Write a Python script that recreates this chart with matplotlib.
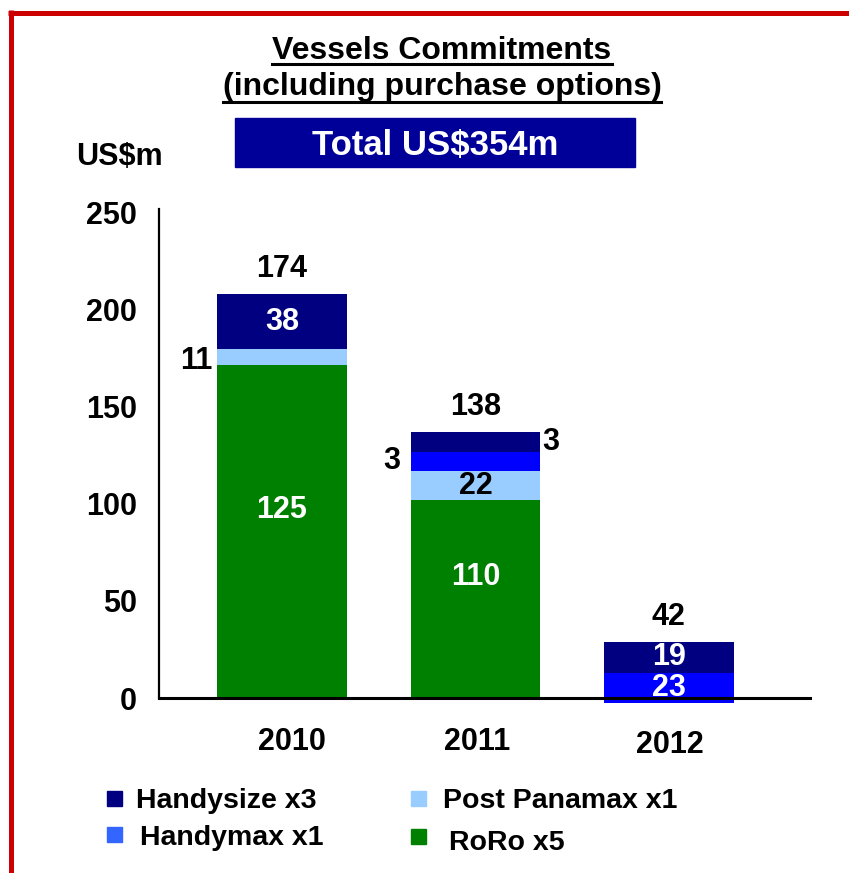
import matplotlib.pyplot as plt
import matplotlib.transforms as mtransforms
from matplotlib.patches import Rectangle
from matplotlib.lines import Line2D

plt.rcParams['font.family'] = ['Liberation Sans', 'DejaVu Sans']
plt.rcParams['font.weight'] = 'bold'

years = ['2010', '2011', '2012']
# segment heights as drawn on the value axis (US$m)
base = [0, 0, -2.6]
roro = [171.5, 102, 0]
post_panamax = [8.5, 15, 0]
handymax = [0, 10, 15.5]
handysize = [28, 10, 16]
# printed labels
roro_lbl = ['125', '110', '']
post_panamax_lbl = ['11', '22', '']
handymax_lbl = ['', '3', '23']
handysize_lbl = ['38', '3', '19']
total_lbl = ['174', '138', '42']

legend_names = ['Handysize x3', 'Handymax x1', 'Post Panamax x1', 'RoRo x5']
c_navy, c_blue, c_light, c_green = '#000080', '#0000FF', '#99CCFF', '#008000'
legend_colors = [c_navy, '#3366FF', c_light, c_green]

W, H = 849, 873
fig = plt.figure(figsize=(W / 100, H / 100), dpi=100)


def fx(x):
    return x / W


def fy(y):
    return 1 - y / H


ax = fig.add_axes([fx(159), fy(698), (810 - 159) / W, (698 - 209) / H])
x = list(range(len(years)))
width = 0.67

b0 = base
b1 = [b + v for b, v in zip(b0, roro)]
b2 = [b + v for b, v in zip(b1, post_panamax)]
b3 = [b + v for b, v in zip(b2, handymax)]
tops = [b + v for b, v in zip(b3, handysize)]

kw = dict(width=width, clip_on=False, linewidth=0)
ax.bar(x, roro, bottom=b0, color=c_green, **kw)
ax.bar(x, post_panamax, bottom=b1, color=c_light, **kw)
ax.bar(x, handymax, bottom=b2, color=c_blue, **kw)
ax.bar(x, handysize, bottom=b3, color=c_navy, **kw)

ax.set_xlim(-0.636, 2.73)
ax.set_ylim(0, 252)
ax.set_yticks([0, 50, 100, 150, 200, 250])
ax.set_xticks(x)
ax.set_xticklabels(years)
ax.tick_params(axis='y', length=0, pad=16, labelsize=22)
ax.tick_params(axis='x', length=0, pad=21, labelsize=22)
# nudge the 2010 / 2012 labels like the original
shifts = [(10, 0), (2, 0), (1, -3)]
for lab, (dx, dy) in zip(ax.get_xticklabels(), shifts):
    lab.set_transform(lab.get_transform() +
                      mtransforms.ScaledTranslation(dx / 100, dy / 100, fig.dpi_scale_trans))
for s in ['top', 'right']:
    ax.spines[s].set_visible(False)
ax.spines['left'].set_linewidth(1.6)
ax.spines['bottom'].set_linewidth(2.2)
ax.spines['left'].set_zorder(5)
ax.spines['bottom'].set_zorder(5)

fs = 22


def put(xv, yv, txt, dx=0, dy=0, color='black', ha='center', va='center'):
    if txt:
        ax.annotate(txt, (xv, yv), xytext=(dx, dy), textcoords='offset pixels',
                    ha=ha, va=va, color=color, fontsize=fs, fontweight='bold',
                    annotation_clip=False, zorder=6)


half = width / 2
for i in x:
    # RoRo
    put(i, (b0[i] + b1[i]) / 2, roro_lbl[i], dy=22, color='white')
    # Handysize
    if i == 1:
        put(i + half, (b3[i] + tops[i]) / 2, handysize_lbl[i], dx=2, ha='left')
    else:
        put(i, (b3[i] + tops[i]) / 2, handysize_lbl[i], color='white')
    # Handymax
    if i == 1:
        put(i - half, (b2[i] + b3[i]) / 2, handymax_lbl[i], dx=-10, ha='right')
    else:
        put(i, (b2[i] + b3[i]) / 2, handymax_lbl[i], color='white')
    # Post Panamax
    if i == 0:
        put(i - half, (b1[i] + b2[i]) / 2, post_panamax_lbl[i], dx=-5, dy=-4, ha='right')
    else:
        put(i, (b1[i] + b2[i]) / 2, post_panamax_lbl[i])
    # totals
    put(i, tops[i], total_lbl[i], dy=10, va='bottom')

# title with underlines
t1 = fig.text(fx(442), fy(59), 'Vessels Commitments', ha='center', va='baseline',
              fontsize=23, fontweight='bold')
t2 = fig.text(fx(442), fy(95), '(including purchase options)', ha='center', va='baseline',
              fontsize=23, fontweight='bold')
fig.canvas.draw()
r = fig.canvas.get_renderer()
for t, uy in [(t1, 64), (t2, 102)]:
    bb = t.get_window_extent(r)
    fig.add_artist(Line2D([bb.x0 / W, bb.x1 / W], [fy(uy), fy(uy)],
                          color='black', lw=2.2, transform=fig.transFigure))

# total box
fig.add_artist(Rectangle((fx(235), fy(167)), 400 / W, 49 / H, color='#000099',
                         transform=fig.transFigure))
fig.text(fx(435), fy(155), 'Total US$354m', ha='center', va='baseline',
         color='white', fontsize=25, fontweight='bold')
fig.text(fx(76), fy(165), 'US$m', ha='left', va='baseline', fontsize=22, fontweight='bold')

# legend
leg_pos = [(107, 791, 136, 808), (107, 827, 140, 845),
           (411, 791, 443, 808), (411, 829, 449, 850)]
for name, col, (mx, my, tx, ty) in zip(legend_names, legend_colors, leg_pos):
    fig.add_artist(Rectangle((fx(mx), fy(my + 15)), 15 / W, 15 / H, color=col,
                             transform=fig.transFigure))
    fig.text(fx(tx), fy(ty), name, ha='left', va='baseline', fontsize=20.5,
             fontweight='bold')

# red frame
red = '#CC0000'
fig.add_artist(Line2D([fx(8), fx(849)], [fy(12.5), fy(12.5)], color=red, lw=3.6,
                      transform=fig.transFigure, solid_capstyle='butt'))
fig.add_artist(Line2D([fx(10.5), fx(10.5)], [fy(10), fy(873)], color=red, lw=3.6,
                      transform=fig.transFigure, solid_capstyle='butt'))

fig.savefig('out.png', dpi=100)
